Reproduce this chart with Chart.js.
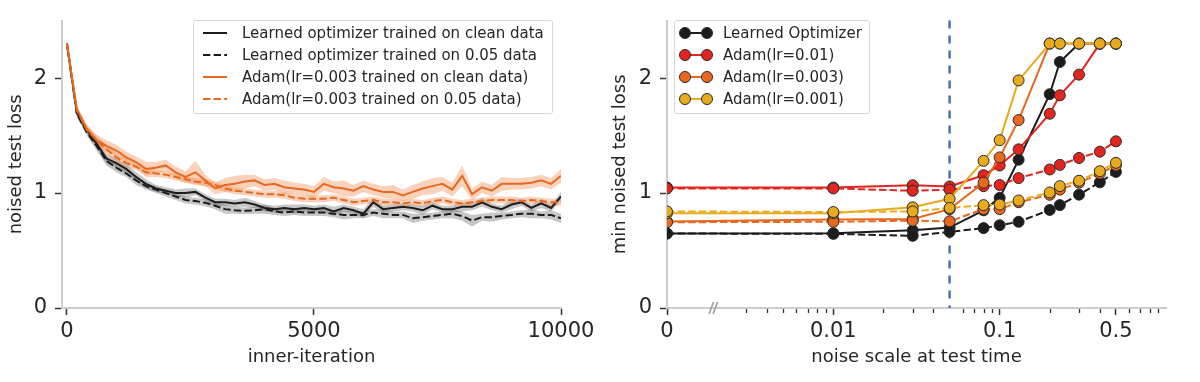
<!DOCTYPE html>
<html>
<head>
<meta charset="utf-8">
<script src="https://cdn.jsdelivr.net/npm/chart.js@4.4.1/dist/chart.umd.min.js"></script>
<style>
  html, body { margin: 0; padding: 0; background: #fff; }
  #wrap { position: relative; width: 1200px; height: 382px; }
  .panel { position: absolute; top: 0; width: 600px; height: 382px; }
</style>
</head>
<body>
<div id="wrap">
  <div class="panel" style="left:0"><canvas id="left" width="600" height="382"></canvas></div>
  <div class="panel" style="left:600px"><canvas id="right" width="600" height="382"></canvas></div>
</div>
<script>
// ---- left panel: loss curves over inner iterations ----
const iterations = [0, 200, 400, 600, 800, 1000, 1200, 1400, 1600, 1800, 2000, 2200, 2400, 2600, 2800, 3000,
  3200, 3400, 3600, 3800, 4000, 4200, 4400, 4600, 4800, 5000, 5200, 5400, 5600, 5800, 6000, 6200, 6400, 6600,
  6800, 7000, 7200, 7400, 7600, 7800, 8000, 8200, 8400, 8600, 8800, 9000, 9200, 9400, 9600, 9800, 10000];

const learnedClean = [2.30, 1.70, 1.55, 1.43, 1.30, 1.26, 1.21, 1.14, 1.08, 1.04, 1.02, 1.00, 1.00, 1.01, 0.96, 0.92,
  0.92, 0.91, 0.92, 0.90, 0.87, 0.86, 0.87, 0.86, 0.87, 0.86, 0.87, 0.84, 0.87, 0.85, 0.82, 0.92, 0.86, 0.87,
  0.88, 0.87, 0.85, 0.89, 0.86, 0.86, 0.88, 0.88, 0.92, 0.88, 0.86, 0.90, 0.92, 0.87, 0.91, 0.87, 0.97];
const learnedNoisy = [2.30, 1.69, 1.53, 1.41, 1.28, 1.22, 1.17, 1.11, 1.06, 1.03, 1.00, 0.97, 0.94, 0.93, 0.915, 0.89,
  0.86, 0.85, 0.845, 0.85, 0.86, 0.84, 0.83, 0.84, 0.83, 0.83, 0.83, 0.82, 0.81, 0.81, 0.81, 0.83, 0.82, 0.81,
  0.81, 0.78, 0.79, 0.80, 0.81, 0.82, 0.80, 0.76, 0.79, 0.79, 0.80, 0.81, 0.82, 0.82, 0.81, 0.81, 0.78];
const adamClean = [2.30, 1.73, 1.56, 1.46, 1.41, 1.37, 1.31, 1.27, 1.21, 1.22, 1.24, 1.18, 1.14, 1.18, 1.11, 1.04,
  1.07, 1.08, 1.10, 1.11, 1.07, 1.08, 1.05, 1.04, 1.03, 1.01, 1.08, 1.05, 1.04, 1.02, 1.06, 1.03, 1.01, 1.01,
  0.98, 1.01, 1.04, 1.06, 1.08, 1.03, 1.15, 0.99, 1.05, 1.02, 1.08, 1.08, 1.08, 1.09, 1.11, 1.08, 1.15];
const adamNoisy = [2.30, 1.72, 1.55, 1.46, 1.38, 1.31, 1.26, 1.23, 1.18, 1.17, 1.16, 1.14, 1.12, 1.10, 1.09, 1.07,
  1.04, 1.02, 1.01, 1.00, 0.99, 0.99, 0.98, 0.96, 0.95, 0.95, 0.95, 0.96, 0.94, 0.92, 0.93, 0.94, 0.92, 0.92,
  0.91, 0.92, 0.91, 0.93, 0.94, 0.92, 0.91, 0.92, 0.93, 0.94, 0.94, 0.94, 0.93, 0.94, 0.93, 0.92, 0.92];

// half-width of the shaded bands
const learnedCleanSpread = [0.01, 0.03, 0.03, 0.04, 0.04, 0.04, 0.04, 0.04, 0.04, 0.03, 0.03, 0.03, 0.04, 0.03, 0.03, 0.03,
  0.03, 0.03, 0.04, 0.03, 0.03, 0.03, 0.03, 0.04, 0.03, 0.03, 0.03, 0.04, 0.03, 0.03, 0.04, 0.04, 0.03, 0.03,
  0.03, 0.03, 0.04, 0.03, 0.03, 0.03, 0.04, 0.03, 0.04, 0.03, 0.03, 0.04, 0.03, 0.03, 0.04, 0.03, 0.04];
const learnedNoisySpread = [0.01, 0.03, 0.03, 0.04, 0.04, 0.04, 0.03, 0.04, 0.03, 0.03, 0.03, 0.03, 0.03, 0.03, 0.03, 0.03,
  0.04, 0.03, 0.03, 0.03, 0.04, 0.03, 0.03, 0.03, 0.03, 0.03, 0.03, 0.03, 0.04, 0.03, 0.03, 0.03, 0.04, 0.03,
  0.03, 0.04, 0.03, 0.03, 0.03, 0.04, 0.04, 0.05, 0.03, 0.04, 0.03, 0.03, 0.03, 0.04, 0.03, 0.04, 0.04];
const adamCleanSpread = [0.01, 0.03, 0.04, 0.05, 0.05, 0.05, 0.05, 0.05, 0.06, 0.05, 0.05, 0.05, 0.05, 0.10, 0.05, 0.05,
  0.06, 0.07, 0.06, 0.05, 0.05, 0.05, 0.06, 0.05, 0.05, 0.05, 0.06, 0.05, 0.07, 0.05, 0.05, 0.05, 0.05, 0.06,
  0.05, 0.06, 0.06, 0.07, 0.06, 0.06, 0.09, 0.05, 0.05, 0.05, 0.06, 0.05, 0.05, 0.05, 0.05, 0.05, 0.06];
const adamNoisySpread = [0.01, 0.03, 0.03, 0.04, 0.04, 0.04, 0.04, 0.03, 0.04, 0.03, 0.03, 0.03, 0.03, 0.03, 0.03, 0.03,
  0.03, 0.03, 0.03, 0.03, 0.03, 0.03, 0.03, 0.03, 0.03, 0.03, 0.03, 0.03, 0.03, 0.03, 0.03, 0.03, 0.03, 0.03,
  0.03, 0.03, 0.03, 0.03, 0.03, 0.03, 0.03, 0.03, 0.03, 0.03, 0.03, 0.03, 0.03, 0.03, 0.03, 0.03, 0.03];

const leftXTicks = [0, 5000, 10000];
const leftXLabels = ['0', '5000', '10000'];
const leftYTicks = [0, 1, 2];
const leftLegend = [
  'Learned optimizer trained on clean data',
  'Learned optimizer trained on 0.05 data',
  'Adam(lr=0.003 trained on clean data)',
  'Adam(lr=0.003 trained on 0.05 data)'
];

// ---- right panel: min loss vs noise scale ----
const noiseScales = [0, 0.01, 0.03, 0.05, 0.08, 0.1, 0.13, 0.2, 0.23, 0.3, 0.4, 0.5];
const learnedOptClean = [0.648, 0.65, 0.676, 0.70, 0.85, 0.958, 1.29, 1.86, 2.14, 2.30, 2.30, 2.30];
const learnedOptNoisy = [0.648, 0.645, 0.628, 0.662, 0.695, 0.72, 0.75, 0.853, 0.895, 0.986, 1.093, 1.184];
const adam01Clean = [1.048, 1.048, 1.068, 1.057, 1.155, 1.24, 1.38, 1.69, 1.85, 2.03, 2.30, 2.30];
const adam01Noisy = [1.04, 1.04, 1.02, 1.03, 1.06, 1.07, 1.13, 1.205, 1.245, 1.305, 1.36, 1.45];
const adam003Clean = [0.752, 0.77, 0.775, 0.86, 1.09, 1.31, 1.635, 2.30, 2.30, 2.30, 2.30, 2.30];
const adam003Noisy = [0.746, 0.75, 0.76, 0.754, 0.86, 0.86, 0.92, 0.985, 1.03, 1.09, 1.17, 1.24];
const adam001Clean = [0.825, 0.825, 0.876, 0.95, 1.28, 1.46, 1.98, 2.30, 2.30, 2.30, 2.30, 2.30];
const adam001Noisy = [0.84, 0.835, 0.84, 0.87, 0.895, 0.90, 0.935, 1.005, 1.06, 1.107, 1.19, 1.263];

const zeroPos = 0.001; // where "0" sits on the broken log axis
const trainNoise = 0.05;
const rightXTicks = [0.001, 0.01, 0.1, 0.5];
const rightXLabels = ['0', '0.01', '0.1', '0.5'];
const rightMinorTicks = [0.003, 0.004, 0.005, 0.006, 0.007, 0.008, 0.009, 0.02, 0.03, 0.04, 0.06, 0.07, 0.08, 0.09,
  0.2, 0.3, 0.4, 0.6, 0.7, 0.8, 0.9];
const rightYTicks = [0, 1, 2];
const rightLegend = ['Learned Optimizer', 'Adam(lr=0.01)', 'Adam(lr=0.003)', 'Adam(lr=0.001)'];

const BLACK = '#1c1c1c', ORANGE = '#e8691e', RED = '#e3251f', YELLOW = '#e8ab1e', BLUE = '#4c72b0';
const TEXT = '#262626';
const DASH = [7.4, 3.2];
const TICK_FONT = 21;

Chart.defaults.font.family = "'DejaVu Sans', sans-serif";
Chart.defaults.color = TEXT;

function xy(xs, ys) {
  return xs.map((x, i) => ({ x: x, y: ys[i] }));
}
function shifted(xs, ys, sp, sign) {
  return xs.map((x, i) => ({ x: x, y: ys[i] + sign * sp[i] }));
}

function axisBase(ticks) {
  return {
    grid: { drawOnChartArea: false, tickLength: 7, tickColor: '#333', tickWidth: 1.5 },
    border: { color: '#cccccc', width: 2 },
    afterBuildTicks: s => { s.ticks = ticks.map(v => ({ value: v })); }
  };
}

function drawLegend(ctx, box, rows, textX, sample) {
  ctx.save();
  ctx.fillStyle = 'rgba(255,255,255,0.85)';
  ctx.strokeStyle = '#d6d6d6';
  ctx.lineWidth = 1;
  ctx.beginPath();
  ctx.roundRect(box[0], box[1], box[2], box[3], 2);
  ctx.fill();
  ctx.stroke();
  ctx.font = "15px 'DejaVu Sans'";
  ctx.textBaseline = 'middle';
  rows.forEach((r, i) => {
    const y = 33 + i * 22;
    sample(ctx, i, y);
    ctx.fillStyle = TEXT;
    ctx.fillText(r, textX, y + 1);
  });
  ctx.restore();
}

// ---------- left chart ----------
const leftStyles = [
  { color: BLACK, dash: [] }, { color: BLACK, dash: DASH },
  { color: ORANGE, dash: [] }, { color: ORANGE, dash: DASH }
];

const leftLegendPlugin = {
  id: 'leftLegend',
  afterDraw(chart) {
    drawLegend(chart.ctx, [193.5, 20.5, 359, 93], leftLegend, 242, (ctx, i, y) => {
      ctx.strokeStyle = leftStyles[i].color;
      ctx.lineWidth = 2;
      ctx.setLineDash(leftStyles[i].dash);
      ctx.beginPath();
      ctx.moveTo(203, y);
      ctx.lineTo(227, y);
      ctx.stroke();
      ctx.setLineDash([]);
    });
  }
};

function lineSet(data, color, dash) {
  return { data: data, borderColor: color, borderWidth: 2, borderDash: dash, pointRadius: 0, fill: false, tension: 0 };
}
function bandSet(data, color, fill) {
  return { data: data, borderWidth: 0, pointRadius: 0, backgroundColor: color, fill: fill };
}

const ORANGE_BAND = 'rgba(238,130,70,0.36)';
const GRAY_BAND = 'rgba(70,70,70,0.3)';

new Chart(document.getElementById('left'), {
  type: 'line',
  data: {
    datasets: [
      lineSet(xy(iterations, adamClean), ORANGE, []),
      lineSet(xy(iterations, adamNoisy), ORANGE, DASH),
      lineSet(xy(iterations, learnedClean), BLACK, []),
      lineSet(xy(iterations, learnedNoisy), BLACK, DASH),
      bandSet(shifted(iterations, adamClean, adamCleanSpread, 1), ORANGE_BAND, '+1'),
      bandSet(shifted(iterations, adamClean, adamCleanSpread, -1), ORANGE_BAND, false),
      bandSet(shifted(iterations, adamNoisy, adamNoisySpread, 1), ORANGE_BAND, '+1'),
      bandSet(shifted(iterations, adamNoisy, adamNoisySpread, -1), ORANGE_BAND, false),
      bandSet(shifted(iterations, learnedClean, learnedCleanSpread, 1), GRAY_BAND, '+1'),
      bandSet(shifted(iterations, learnedClean, learnedCleanSpread, -1), GRAY_BAND, false),
      bandSet(shifted(iterations, learnedNoisy, learnedNoisySpread, 1), GRAY_BAND, '+1'),
      bandSet(shifted(iterations, learnedNoisy, learnedNoisySpread, -1), GRAY_BAND, false)
    ]
  },
  options: {
    responsive: false,
    animation: false,
    events: [],
    layout: { padding: { top: 12, right: 39, left: 0, bottom: 0 } },
    plugins: { legend: { display: false }, tooltip: { enabled: false }, filler: { drawTime: 'beforeDatasetsDraw' } },
    scales: {
      x: Object.assign(axisBase(leftXTicks), {
        type: 'linear', min: -100, max: 10000,
        ticks: { font: { size: TICK_FONT }, padding: 4, maxRotation: 0, autoSkip: false,
          callback: (v, i) => leftXLabels[i] },
        title: { display: true, text: 'inner-iteration', font: { size: 18 }, padding: { top: 0, bottom: 14 } },
        afterFit: s => { s.height = 74; }
      }),
      y: Object.assign(axisBase(leftYTicks), {
        type: 'linear', min: 0, max: 2.5,
        ticks: { font: { size: TICK_FONT }, padding: 8 },
        title: { display: true, text: 'noised test loss', font: { size: 18 }, padding: { top: 6, bottom: 0 } },
        afterFit: s => { s.width = 62; }
      })
    }
  },
  plugins: [leftLegendPlugin]
});

// ---------- right chart ----------
const rightColors = [BLACK, RED, ORANGE, YELLOW];

const rightExtras = {
  id: 'rightExtras',
  beforeDatasetsDraw(chart) {
    const { ctx, chartArea, scales } = chart;
    const x = scales.x.getPixelForValue(trainNoise);
    ctx.save();
    ctx.strokeStyle = BLUE;
    ctx.lineWidth = 2.5;
    ctx.setLineDash([8, 7]);
    ctx.beginPath();
    ctx.moveTo(x, chartArea.top);
    ctx.lineTo(x, chartArea.bottom);
    ctx.stroke();
    ctx.restore();
  },
  afterDraw(chart) {
    const { ctx, chartArea, scales } = chart;
    const y0 = chartArea.bottom;
    ctx.save();
    ctx.strokeStyle = '#333';
    ctx.lineWidth = 1.3;
    rightMinorTicks.forEach(v => {
      const x = Math.round(scales.x.getPixelForValue(v)) + 0.5;
      ctx.beginPath();
      ctx.moveTo(x, y0 + 1);
      ctx.lineTo(x, y0 + 5);
      ctx.stroke();
    });
    // axis break mark
    const bx = scales.x.getPixelForValue(0.002) - 3;
    ctx.strokeStyle = '#999';
    ctx.lineWidth = 1.5;
    [-2.5, 1.5].forEach(d => {
      ctx.beginPath();
      ctx.moveTo(bx + d - 2.5, y0 + 6);
      ctx.lineTo(bx + d + 2, y0 - 6);
      ctx.stroke();
    });
    ctx.restore();

    drawLegend(ctx, [74.5, 20.5, 195, 93], rightLegend, 123, (c, i, y) => {
      c.strokeStyle = rightColors[i];
      c.lineWidth = 2;
      c.beginPath();
      c.moveTo(85, y);
      c.lineTo(107, y);
      c.stroke();
      [85, 107].forEach(px => {
        c.beginPath();
        c.arc(px, y, 5.5, 0, Math.PI * 2);
        c.fillStyle = rightColors[i];
        c.fill();
        c.strokeStyle = '#2a2a2a';
        c.lineWidth = 1;
        c.stroke();
      });
    });
  }
};

const noisePos = noiseScales.map(n => (n === 0 ? zeroPos : n));
function markerSet(vals, color, dash) {
  return {
    data: xy(noisePos, vals),
    borderColor: color, borderWidth: 2, borderDash: dash,
    pointRadius: 5.5, pointBackgroundColor: color, pointBorderColor: '#2a2a2a', pointBorderWidth: 1,
    fill: false, tension: 0
  };
}

// listed bottom to top
const rightSets = [
  markerSet(learnedOptClean, BLACK, []),
  markerSet(learnedOptNoisy, BLACK, DASH),
  markerSet(adam01Clean, RED, []),
  markerSet(adam01Noisy, RED, DASH),
  markerSet(adam003Clean, ORANGE, []),
  markerSet(adam003Noisy, ORANGE, DASH),
  markerSet(adam001Clean, YELLOW, []),
  markerSet(adam001Noisy, YELLOW, DASH)
];
rightSets.forEach((d, i) => { d.order = rightSets.length - i; });

new Chart(document.getElementById('right'), {
  type: 'line',
  data: { datasets: rightSets },
  options: {
    responsive: false,
    animation: false,
    events: [],
    layout: { padding: { top: 12, right: 34, left: 0, bottom: 0 } },
    plugins: { legend: { display: false }, tooltip: { enabled: false } },
    scales: {
      x: Object.assign(axisBase(rightXTicks), {
        type: 'logarithmic', min: 0.001, max: 1,
        ticks: { font: { size: TICK_FONT }, padding: 4, maxRotation: 0, autoSkip: false,
          callback: (v, i) => rightXLabels[i] },
        title: { display: true, text: 'noise scale at test time', font: { size: 18 }, padding: { top: 0, bottom: 14 } },
        afterFit: s => { s.height = 74; }
      }),
      y: Object.assign(axisBase(rightYTicks), {
        type: 'linear', min: 0, max: 2.5,
        ticks: { font: { size: TICK_FONT }, padding: 8 },
        title: { display: true, text: 'min noised test loss', font: { size: 18 }, padding: { top: 10, bottom: 0 } },
        afterFit: s => { s.width = 67; }
      })
    }
  },
  plugins: [rightExtras]
});
</script>
</body>
</html>
